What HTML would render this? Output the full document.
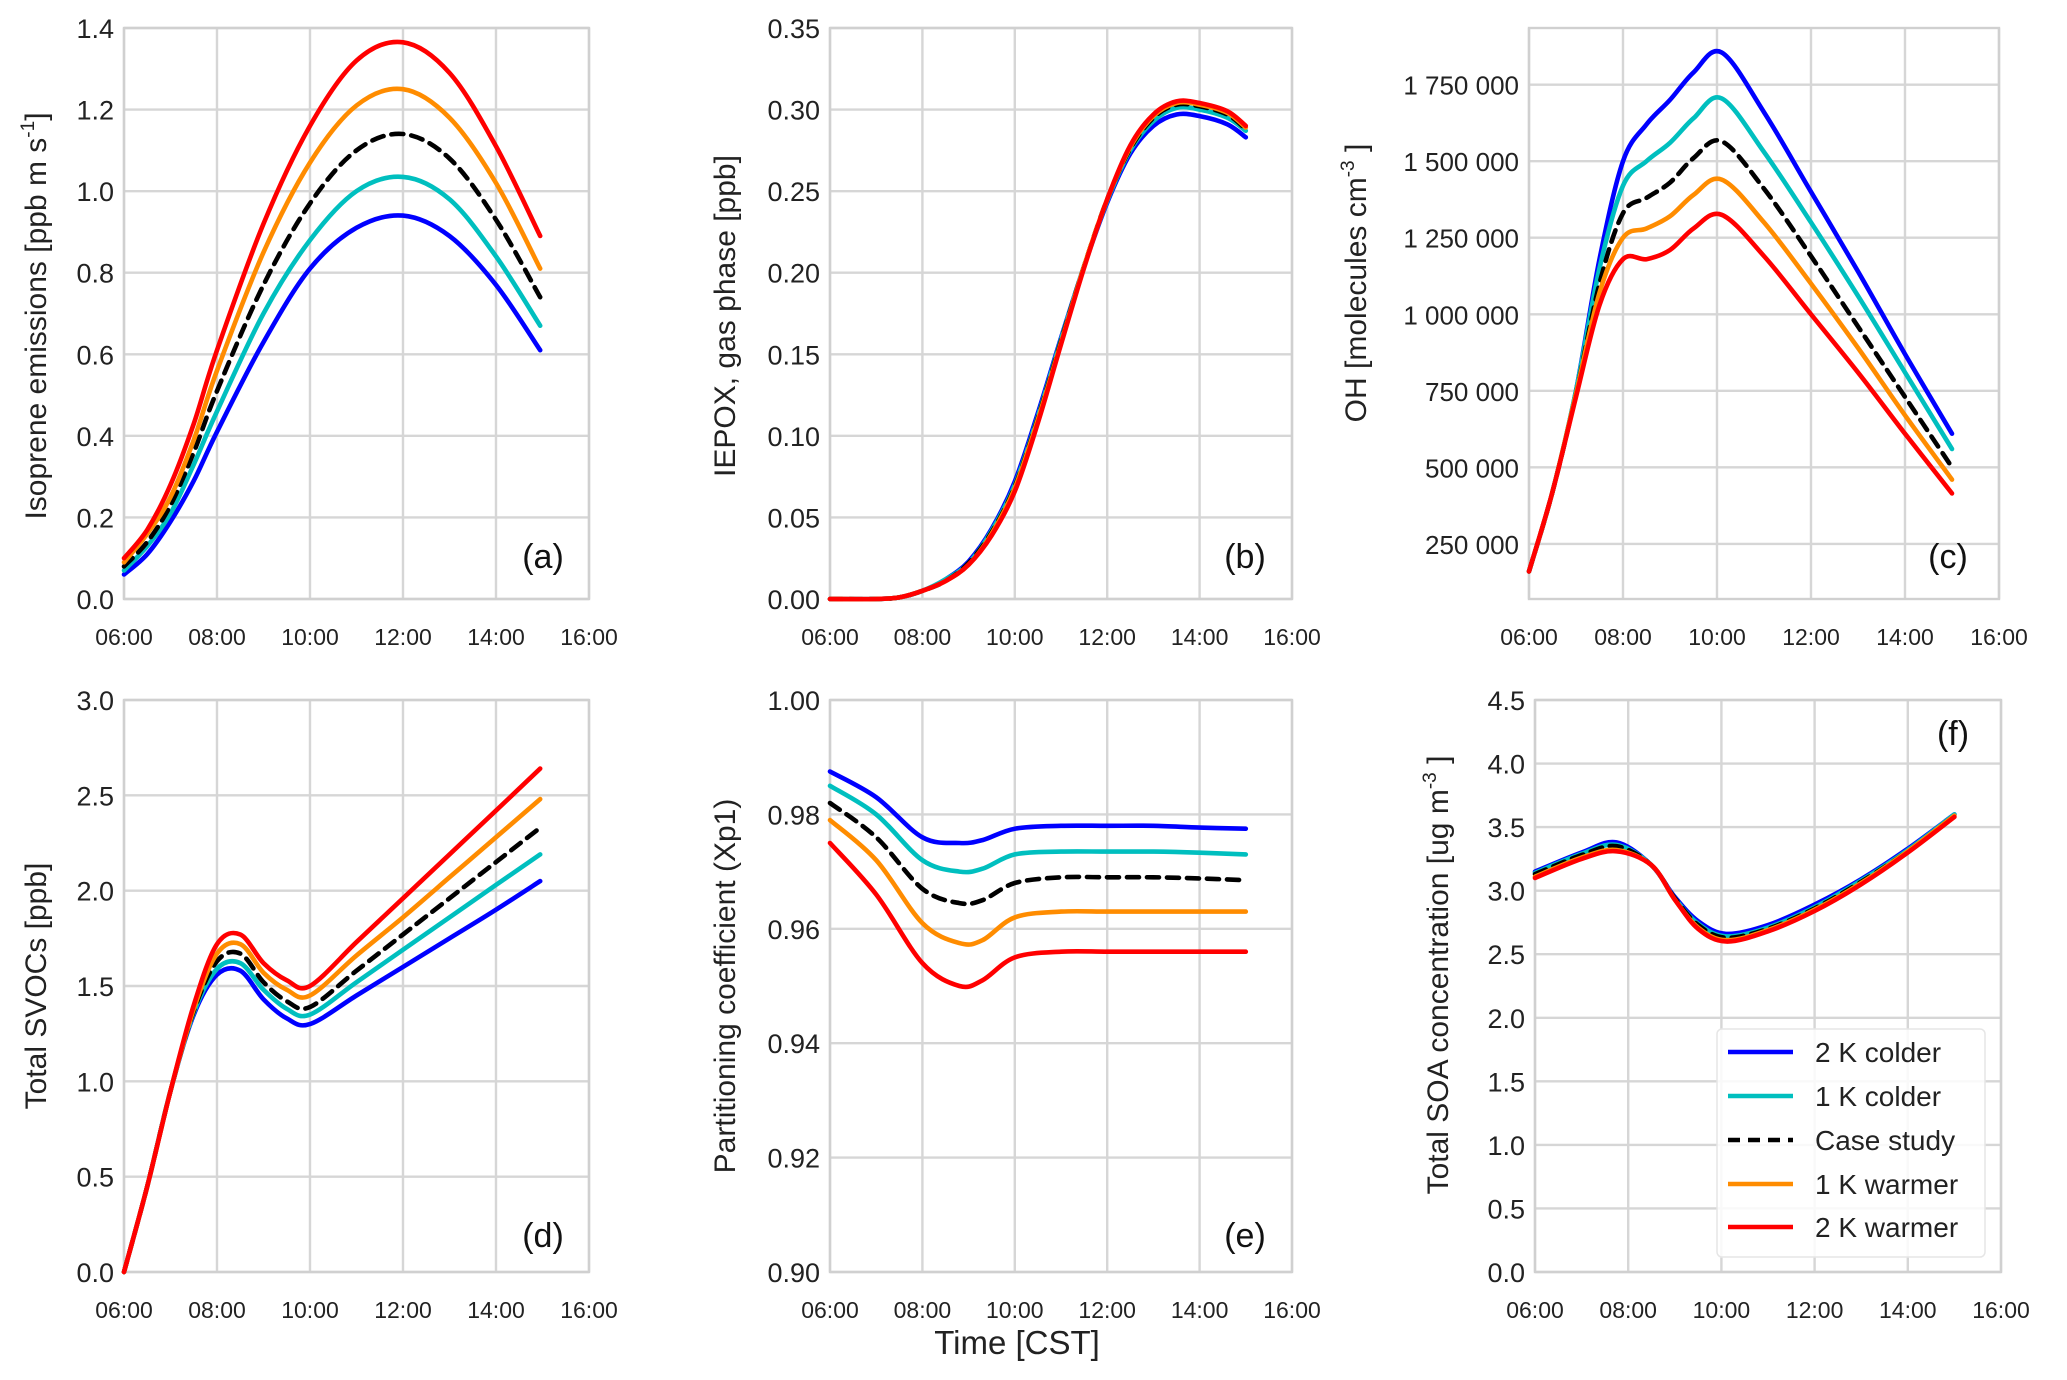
<!DOCTYPE html>
<html><head><meta charset="utf-8"><style>
html,body{margin:0;padding:0;background:#fff}
svg{display:block;font-family:"Liberation Sans",Arial,sans-serif}
</style></head><body>
<svg id="fig" width="2067" height="1380" viewBox="0 0 2067 1380"></svg>
<script>
// ---- data ----
const seriesNames = ["2 K colder","1 K colder","Case study","1 K warmer","2 K warmer"];
const seriesColors = ["#0000ff","#00bfbf","#000000","#ff8c00","#ff0000"];
const xTickLabels = ["06:00","08:00","10:00","12:00","14:00","16:00"];

const tA = [6,6.5,7,7.5,8,9,10,11,12,13,14,14.95];
const aBlue   = [0.06,0.11,0.19,0.29,0.41,0.63,0.81,0.91,0.94,0.89,0.77,0.61];
const aCyan   = [0.07,0.13,0.21,0.33,0.46,0.70,0.88,1.00,1.035,0.98,0.84,0.67];
const aBlack  = [0.08,0.14,0.23,0.36,0.51,0.77,0.97,1.10,1.14,1.08,0.93,0.74];
const aOrange = [0.09,0.16,0.25,0.39,0.56,0.85,1.07,1.21,1.25,1.18,1.02,0.81];
const aRed    = [0.10,0.17,0.28,0.43,0.61,0.92,1.16,1.32,1.365,1.29,1.11,0.89];
const aTicks  = ["0.0","0.2","0.4","0.6","0.8","1.0","1.2","1.4"];

const tB = [6,7,7.5,8,8.5,9,9.5,10,10.5,11,11.5,12,12.5,13,13.5,14.0,14.6,15];
const bBlue   = [0,0,0.001,0.005,0.012,0.023,0.043,0.072,0.114,0.160,0.204,0.243,0.273,0.290,0.297,0.296,0.291,0.283];
const bCyan   = [0,0,0.001,0.005,0.012,0.022,0.042,0.070,0.112,0.159,0.204,0.244,0.275,0.293,0.301,0.300,0.295,0.287];
const bBlack  = [0,0,0.001,0.005,0.011,0.022,0.041,0.069,0.111,0.158,0.204,0.245,0.276,0.295,0.303,0.302,0.297,0.288];
const bOrange = [0,0,0.001,0.005,0.011,0.021,0.040,0.068,0.110,0.157,0.204,0.245,0.277,0.296,0.304,0.303,0.298,0.289];
const bRed    = [0,0,0.001,0.005,0.011,0.021,0.039,0.066,0.108,0.156,0.203,0.245,0.278,0.297,0.305,0.304,0.299,0.290];
const bTicks  = ["0.00","0.05","0.10","0.15","0.20","0.25","0.30","0.35"];

const tC = [6,6.5,7,7.5,8,8.5,9,9.5,10.1,11,12,13,14,15];
const cBlue   = [0.16,0.42,0.75,1.18,1.50,1.62,1.70,1.79,1.855,1.66,1.40,1.14,0.87,0.61];
const cCyan   = [0.16,0.42,0.75,1.15,1.42,1.50,1.56,1.64,1.705,1.53,1.30,1.06,0.81,0.56];
const cBlack  = [0.16,0.42,0.74,1.10,1.33,1.38,1.43,1.51,1.565,1.41,1.19,0.96,0.73,0.50];
const cOrange = [0.16,0.42,0.74,1.07,1.25,1.28,1.32,1.39,1.44,1.30,1.10,0.89,0.67,0.46];
const cRed    = [0.16,0.42,0.73,1.03,1.18,1.18,1.21,1.28,1.325,1.19,1.00,0.81,0.61,0.415];
const cTicks  = ["250 000","500 000","750 000","1 000 000","1 250 000","1 500 000","1 750 000"];

const tD = [6,6.5,7,7.5,8,8.5,9,9.5,10,11,12,13,14,14.95];
const dBlue   = [0,0.45,0.95,1.35,1.56,1.58,1.43,1.33,1.30,1.45,1.60,1.75,1.90,2.05];
const dCyan   = [0,0.45,0.95,1.36,1.59,1.62,1.48,1.38,1.35,1.52,1.69,1.86,2.03,2.19];
const dBlack  = [0,0.45,0.95,1.37,1.63,1.67,1.52,1.42,1.39,1.58,1.77,1.96,2.15,2.33];
const dOrange = [0,0.45,0.95,1.38,1.67,1.72,1.57,1.48,1.45,1.66,1.86,2.07,2.28,2.48];
const dRed    = [0,0.45,0.95,1.40,1.72,1.77,1.62,1.53,1.50,1.73,1.96,2.19,2.42,2.64];
const dTicks  = ["0.0","0.5","1.0","1.5","2.0","2.5","3.0"];

const tE = [6,7,8,8.8,9.3,10,11,12,13,14,15];
const eBlue   = [0.9875,0.983,0.976,0.975,0.9755,0.9775,0.978,0.978,0.978,0.9777,0.9775];
const eCyan   = [0.985,0.980,0.972,0.970,0.9705,0.973,0.9735,0.9735,0.9735,0.9733,0.973];
const eBlack  = [0.982,0.976,0.967,0.9645,0.965,0.968,0.969,0.969,0.969,0.9688,0.9685];
const eOrange = [0.979,0.972,0.961,0.9575,0.958,0.962,0.963,0.963,0.963,0.963,0.963];
const eRed    = [0.975,0.966,0.954,0.950,0.951,0.955,0.956,0.956,0.956,0.956,0.956];
const eTicks  = ["0.90","0.92","0.94","0.96","0.98","1.00"];

const tF = [6,7,7.75,8.5,9,9.5,10.1,11,12,13,14,15];
const fBlue   = [3.15,3.30,3.38,3.20,2.95,2.76,2.66,2.73,2.89,3.09,3.33,3.60];
const fCyan   = [3.14,3.29,3.36,3.20,2.94,2.74,2.64,2.71,2.87,3.08,3.32,3.60];
const fBlack  = [3.13,3.28,3.35,3.20,2.94,2.73,2.63,2.70,2.86,3.07,3.31,3.59];
const fOrange = [3.11,3.26,3.32,3.20,2.93,2.71,2.61,2.69,2.85,3.06,3.31,3.59];
const fRed    = [3.10,3.25,3.31,3.20,2.93,2.70,2.60,2.68,2.84,3.05,3.30,3.58];
const fTicks  = ["0.0","0.5","1.0","1.5","2.0","2.5","3.0","3.5","4.0","4.5"];

// ---- drawing ----
const NS="http://www.w3.org/2000/svg";
const fig=document.getElementById('fig');
function mk(tag,attrs,parent){const e=document.createElementNS(NS,tag);for(const k in attrs)e.setAttribute(k,attrs[k]);(parent||fig).appendChild(e);return e;}
function smoothPath(px,py){
  let d="M"+px[0].toFixed(1)+","+py[0].toFixed(1);
  for(let i=0;i<px.length-1;i++){
    const x0=px[Math.max(i-1,0)],y0=py[Math.max(i-1,0)],x1=px[i],y1=py[i],x2=px[i+1],y2=py[i+1],x3=px[Math.min(i+2,px.length-1)],y3=py[Math.min(i+2,px.length-1)];
    const c1x=x1+(x2-x0)/6,c1y=y1+(y2-y0)/6,c2x=x2-(x3-x1)/6,c2y=y2-(y3-y1)/6;
    d+=" C"+c1x.toFixed(1)+","+c1y.toFixed(1)+" "+c2x.toFixed(1)+","+c2y.toFixed(1)+" "+x2.toFixed(1)+","+y2.toFixed(1);
  }
  return d;
}
function panel(p){
  const g=mk('g',{});
  
  
  const xs=t=>p.x0+(t-6)/10*(p.x1-p.x0);
  const ys=v=>p.y1-(v-p.ymin)/(p.ymax-p.ymin)*(p.y1-p.y0);
  for(let i=0;i<xTickLabels.length;i++){
    const t=6+2*i,x=xs(t);
    const gl=mk('line',{x1:x,x2:x,y1:p.y0,y2:p.y1,stroke:"#d6d6d6","stroke-width":2.4},g);
    
    
    const tl=mk('text',{x:x,y:p.y1+46,"text-anchor":"middle","font-size":23,fill:"#222"},g);
    tl.textContent=xTickLabels[i];
    
    
  }
  for(let i=0;i<p.ticks.length;i++){
    const v=p.tickVals[i],y=ys(v);
    const gl=mk('line',{x1:p.x0,x2:p.x1,y1:y,y2:y,stroke:"#d6d6d6","stroke-width":2.4},g);
    
    
    const tl=mk('text',{x:p.x0-10,y:y+10,"text-anchor":"end","font-size":p.tfs||27,fill:"#222"},g);
    tl.textContent=p.ticks[i];
    
    
  }
  const fr=mk('rect',{x:p.x0,y:p.y0,width:p.x1-p.x0,height:p.y1-p.y0,fill:"none",stroke:"#d0d0d0","stroke-width":2.4},g);
  
  
  for(let s=0;s<5;s++){
    const px=p.t.map(xs),py=p.vals[s].map(ys);
    const attrs={d:smoothPath(px,py),fill:"none",stroke:seriesColors[s],"stroke-width":4.6,"stroke-linecap":"round","stroke-linejoin":"round"};
    if(s===2)attrs["stroke-dasharray"]="12 8";
    const path=mk('path',attrs,g);
    
    
  }
  const lt=mk('text',{x:p.lx,y:p.ly,"text-anchor":"middle","font-size":34,fill:"#111"},g);
  lt.textContent=p.letter;
  
  
  const yt=mk('text',{x:0,y:0,transform:"translate("+p.tx+","+p.ty+") rotate(-90)","text-anchor":"middle","font-size":30,fill:"#222"},g);
  yt.innerHTML=p.title;
  
  
}
const top0=28,bot0=599,top1=700,bot1=1272;
panel({id:'a',x0:124,x1:589,y0:top0,y1:bot0,ymin:0,ymax:1.4,t:tA,vals:[aBlue,aCyan,aBlack,aOrange,aRed],ticks:aTicks,tickVals:aTicks.map(Number),letter:"(a)",lx:543,ly:568,tx:46,ty:316,title:'Isoprene emissions [ppb m s<tspan dy="-12" font-size="19">-1</tspan><tspan dy="12">]</tspan>'});
panel({id:'b',x0:830,x1:1292,y0:top0,y1:bot0,ymin:0,ymax:0.35,t:tB,vals:[bBlue,bCyan,bBlack,bOrange,bRed],ticks:bTicks,tickVals:bTicks.map(Number),letter:"(b)",lx:1245,ly:568,tx:735,ty:316,title:'IEPOX, gas phase [ppb]'});
panel({id:'c',x0:1529,x1:1999,y0:top0,y1:bot0,ymin:0.07,ymax:1.935,t:tC,vals:[cBlue,cCyan,cBlack,cOrange,cRed],ticks:cTicks,tickVals:cTicks.map(s=>Number(s.replace(/ /g,''))/1e6),tfs:26,letter:"(c)",lx:1948,ly:568,tx:1366,ty:283,title:'OH [molecules cm<tspan dy="-12" font-size="19">-3</tspan><tspan dy="12"> ]</tspan>'});
panel({id:'d',x0:124,x1:589,y0:top1,y1:bot1,ymin:0,ymax:3,t:tD,vals:[dBlue,dCyan,dBlack,dOrange,dRed],ticks:dTicks,tickVals:dTicks.map(Number),letter:"(d)",lx:543,ly:1247,tx:46,ty:986,title:'Total SVOCs [ppb]'});
panel({id:'e',x0:830,x1:1292,y0:top1,y1:bot1,ymin:0.9,ymax:1.0,t:tE,vals:[eBlue,eCyan,eBlack,eOrange,eRed],ticks:eTicks,tickVals:eTicks.map(Number),letter:"(e)",lx:1245,ly:1247,tx:735,ty:986,title:'Partitioning coefficient (Xp1)'});
panel({id:'f',x0:1535,x1:2001,y0:top1,y1:bot1,ymin:0,ymax:4.5,t:tF,vals:[fBlue,fCyan,fBlack,fOrange,fRed],ticks:fTicks,tickVals:fTicks.map(Number),letter:"(f)",lx:1953,ly:745,tx:1448,ty:975,title:'Total SOA concentration [ug m<tspan dy="-12" font-size="19">-3</tspan><tspan dy="12"> ]</tspan>'});

const xt=mk('text',{x:1017,y:1354,"text-anchor":"middle","font-size":33,fill:"#222"});
xt.textContent="Time [CST]";



const lg=mk('g',{});


const lb=mk('rect',{x:1717,y:1029,width:268,height:228,rx:5,fill:"#fff","fill-opacity":0.85,stroke:"#e6e6e6","stroke-width":1.5},lg);


const legY=[1052,1096,1140,1184,1227];
for(let s=0;s<5;s++){
  const la={x1:1728,x2:1793,y1:legY[s],y2:legY[s],stroke:seriesColors[s],"stroke-width":4.6};
  if(s===2)la["stroke-dasharray"]="12 8";
  const l=mk('line',la,lg);
  
  
  const tx=mk('text',{x:1815,y:legY[s]+10,"font-size":28,fill:"#222"},lg);
  tx.textContent=seriesNames[s];
  
  
}
</script>
</body></html>
